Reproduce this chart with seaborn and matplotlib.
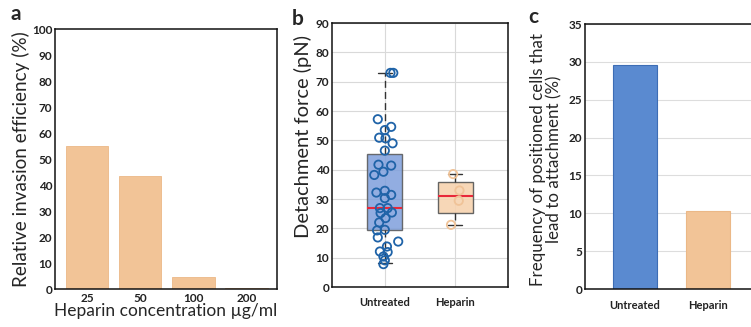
import matplotlib
matplotlib.use("Agg")
import matplotlib.pyplot as plt
import seaborn as sns
import numpy as np
import pandas as pd

# ---------------- data ----------------
conc_labels = ["25", "50", "100", "200"]
invasion_eff = [55, 43.3, 4.8, 0.2]

groups = ["Untreated", "Heparin"]
untreated_force = [73, 73, 57.2, 54.6, 53.5, 50.9, 50.7, 49.0, 46.5, 41.7, 41.4,
                   39.3, 38.2, 32.8, 32.2, 31.4, 30.3, 26.9, 26.9, 25.4, 25.2,
                   23.5, 22.0, 19.5, 19.3, 16.9, 15.5, 13.8, 12.1, 11.9, 10.4,
                   9.1, 7.8]
untreated_jitter = [0.08, 0.12, -0.10, 0.09, 0.0, -0.08, 0.01, 0.11, 0.0, -0.09,
                    0.09, -0.02, -0.15, 0.0, -0.12, 0.09, 0.0, -0.07, 0.04, 0.10,
                    -0.06, 0.01, -0.08, 0.0, -0.11, -0.10, 0.19, 0.03, -0.07,
                    0.04, -0.02, 0.0, -0.02]
heparin_force = [38.5, 32.9, 29.4, 21.2]
heparin_jitter = [-0.03, 0.06, 0.05, -0.06]

# box statistics: (whislo, q1, med, q3, whishi)
untreated_box = (8.3, 19.3, 27.0, 45.2, 73.0)
heparin_box = (21.3, 25.2, 31.0, 35.8, 38.4)

attach_freq = [29.6, 10.3]

# ---------------- style ----------------
sns.set_theme(style="white")
plt.rcParams["font.family"] = ["Lato", "DejaVu Sans"]
peach = "#f2c497"
blue = "#5a8ad0"

fig = plt.figure(figsize=(7.51, 3.27), dpi=100)

tick_kw = dict(direction="in", length=3, width=0.8, labelsize=8.5, colors="#222222")

# ---------------- panel a ----------------
axa = fig.add_axes([0.0732, 0.1162, 0.2956, 0.795])
dfa = pd.DataFrame({"conc": conc_labels, "eff": invasion_eff})
sns.barplot(data=dfa, x="conc", y="eff", color=peach, width=0.8,
            edgecolor="#ebb887", linewidth=0.6, saturation=1, ax=axa)
axa.set_xlim(-0.6, 3.57)
axa.set_ylim(0, 100)
axa.set_yticks(np.arange(0, 101, 10))
axa.tick_params(**tick_kw)
axa.tick_params(axis="y", pad=2)
axa.tick_params(axis="x", pad=3)
for lab in axa.get_xticklabels() + axa.get_yticklabels():
    lab.set_fontweight("bold")
axa.set_ylabel("Relative invasion efficiency (%)", fontsize=13.6, labelpad=1)
axa.set_xlabel("Heparin concentration µg/ml", fontsize=12.5, labelpad=-1)
for s in axa.spines.values():
    s.set_color("#111111"); s.set_linewidth(1.1)
fig.text(0.014, 0.94, "a", fontsize=15, fontweight="bold")

# ---------------- panel b ----------------
axb = fig.add_axes([0.4421, 0.1223, 0.2344, 0.8073])
axb.set_xlim(-0.75, 1.75)
axb.set_ylim(0, 90)
axb.set_yticks(np.arange(0, 91, 10))
axb.grid(True, color="#d9d9d9", linewidth=0.8)
axb.set_axisbelow(True)

stats = []
for name, b in zip(groups, [untreated_box, heparin_box]):
    stats.append(dict(label=name, whislo=b[0], q1=b[1], med=b[2], q3=b[3],
                      whishi=b[4], fliers=[]))
bp = axb.bxp(stats, positions=[0, 1], widths=0.5, patch_artist=True,
             showfliers=False,
             boxprops=dict(edgecolor="#555555", linewidth=1.0),
             medianprops=dict(color="#e8283a", linewidth=1.5),
             whiskerprops=dict(color="#333333", linewidth=1.0, linestyle=(0, (5, 3))),
             capprops=dict(color="#333333", linewidth=1.0), capwidths=0.2)
bp["boxes"][0].set_facecolor("#7f9fdc")
bp["boxes"][0].set_alpha(0.85)
bp["boxes"][1].set_facecolor("#f7d3b0")
bp["boxes"][1].set_alpha(0.9)

dfu = pd.DataFrame({"x": np.array(untreated_jitter), "y": untreated_force})
sns.scatterplot(data=dfu, x="x", y="y", ax=axb, marker="o", s=36,
                facecolor="none", edgecolor="#1f63a8", linewidth=1.3, zorder=5)
dfh = pd.DataFrame({"x": 1 + np.array(heparin_jitter), "y": heparin_force})
sns.scatterplot(data=dfh, x="x", y="y", ax=axb, marker="o", s=36,
                facecolor="none", edgecolor="#f0c398", linewidth=1.3, zorder=5)
axb.set_xticks([0, 1])
axb.set_xticklabels(groups)
axb.tick_params(**tick_kw)
axb.tick_params(axis="y", pad=2)
axb.tick_params(axis="x", length=0, pad=7, labelsize=8)
for lab in axb.get_xticklabels() + axb.get_yticklabels():
    lab.set_fontweight("bold")
axb.set_xlabel("")
axb.set_ylabel("Detachment force (pN)", fontsize=14.5, labelpad=2)
axb.yaxis.set_label_coords(-0.115, 0.57)
for s in axb.spines.values():
    s.set_color("#111111"); s.set_linewidth(1.1)
fig.text(0.388, 0.925, "b", fontsize=15, fontweight="bold")

# ---------------- panel c ----------------
axc = fig.add_axes([0.779, 0.1162, 0.2317, 0.8104])
dfc = pd.DataFrame({"group": groups, "freq": attach_freq})
sns.barplot(data=dfc, x="group", y="freq", hue="group",
            palette=[blue, peach], width=0.6, saturation=1,
            edgecolor="#3d6db5", linewidth=0.8, legend=False, ax=axc)
axc.patches[1].set_edgecolor("#ebb887")
axc.set_xlim(-0.68, 1.7)
axc.set_ylim(0, 35)
axc.set_yticks(np.arange(0, 36, 5))
axc.yaxis.grid(True, color="#dddddd", linewidth=0.8)
axc.set_axisbelow(True)
axc.tick_params(**tick_kw)
axc.tick_params(axis="y", pad=2)
axc.tick_params(axis="x", length=0, pad=8, labelsize=8)
for lab in axc.get_xticklabels() + axc.get_yticklabels():
    lab.set_fontweight("bold")
axc.set_xlabel("")
axc.set_ylabel("Frequency of positioned cells that\nlead to attachment (%)",
               fontsize=12.2, labelpad=2, linespacing=1.05)
axc.yaxis.set_label_coords(-0.13, 0.49)
for s in axc.spines.values():
    s.set_color("#111111"); s.set_linewidth(1.1)
fig.text(0.703, 0.93, "c", fontsize=15, fontweight="bold")

fig.savefig("out.png", dpi=100)
